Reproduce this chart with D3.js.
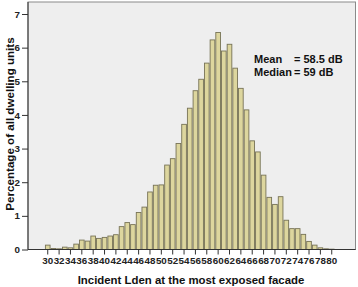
<!DOCTYPE html>
<style>
  body { margin: 0; background: white; }
  svg { font-family: "Liberation Sans", Arial, sans-serif; }
  .axis path, .axis line { stroke: #333; }
  .axis text { fill: #222; font-size: 9.8px; font-weight: bold; font-family: "Liberation Sans", Arial, sans-serif; }
  .title { font-weight: bold; font-size: 11.4px; fill: #111; }
  .note { font-weight: bold; font-size: 11px; fill: #111; }
</style>
<body>
</body>
<script src="https://cdn.jsdelivr.net/npm/d3@7/dist/d3.min.js"></script>
<script>
  // Lden classes (dB) and share of dwellings (%)
  const levels = d3.range(30, 81);
  const pct = [
    0.13, 0.03, 0.02, 0.07, 0.05, 0.16, 0.28, 0.25, 0.40, 0.33,
    0.36, 0.40, 0.44, 0.68, 0.80, 0.74, 1.10, 1.26, 1.71, 1.91,
    1.92, 2.51, 2.70, 3.15, 3.72, 4.20, 4.72, 5.06, 5.54, 6.23,
    6.45, 5.90, 6.10, 5.39, 4.79, 4.15, 3.23, 2.90, 2.21, 1.55,
    1.34, 1.57, 0.87, 0.62, 0.62, 0.45, 0.24, 0.13, 0.05, 0.02,
    0.01
  ];
  const xTicks = d3.range(30, 81, 2);
  const yTicks = [0, 1, 2, 3, 4, 5, 6, 7];
  const notes = [['Mean', '= 58.5 dB'], ['Median', '= 59 dB']];

  const w = 358, h = 287;
  const frame = {l: 28, r: 355.5, t: 2, b: 249.5};

  const svg = d3.select('body').append('svg')
    .attr('width', w)
    .attr('height', h);

  const x = d3.scaleBand()
    .domain(levels)
    .range([44.9, 44.9 + 51 * 5.68])
    .paddingInner(0.18)
    .paddingOuter(0.09);
  const y = d3.scaleLinear().domain([0, 7]).range([frame.b, 14]);

  // plot background
  svg.append('rect')
    .attr('x', frame.l).attr('y', frame.t)
    .attr('width', frame.r - frame.l).attr('height', frame.b - frame.t)
    .attr('fill', '#eeeeee')
    .attr('stroke', '#8a8a8a');

  // bars
  svg.append('g')
    .selectAll('rect')
    .data(levels)
    .join('rect')
    .attr('x', (d) => x(d))
    .attr('width', x.bandwidth())
    .attr('y', (d, i) => y(pct[i]))
    .attr('height', (d, i) => y(0) - y(pct[i]))
    .attr('fill', '#ddd69e')
    .attr('stroke', '#777356')
    .attr('stroke-width', 0.9);

  // bottom axis
  svg.append('g')
    .attr('class', 'axis')
    .attr('transform', `translate(0, ${frame.b})`)
    .call(d3.axisBottom(x).tickValues(xTicks).tickSize(5).tickSizeOuter(0))
    .call(g => g.select('.domain').attr('d', `M${frame.l},0H${frame.r}`));

  // left axis
  svg.append('g')
    .attr('class', 'axis')
    .attr('transform', `translate(${frame.l}, 0)`)
    .call(d3.axisLeft(y).tickValues(yTicks).tickFormat(d3.format('d'))
      .tickSize(6).tickPadding(2).tickSizeOuter(0))
    .call(g => g.select('.domain').attr('d', `M0,${frame.t}V${frame.b}`));

  // axis titles
  svg.append('text')
    .attr('class', 'title')
    .attr('x', 191).attr('y', 284)
    .attr('text-anchor', 'middle')
    .text('Incident Lden at the most exposed facade');

  svg.append('text')
    .attr('class', 'title')
    .attr('transform', 'translate(14, 124) rotate(-90)')
    .attr('text-anchor', 'middle')
    .style('font-size', '11.6px')
    .text('Percentage of all dwelling units');

  // summary stats
  const note = svg.append('g').attr('class', 'note');
  notes.forEach((n, i) => {
    note.append('text').attr('x', 254).attr('y', 63 + i * 13).text(n[0]);
    note.append('text').attr('x', 294).attr('y', 63 + i * 13).text(n[1]);
  });
</script>
